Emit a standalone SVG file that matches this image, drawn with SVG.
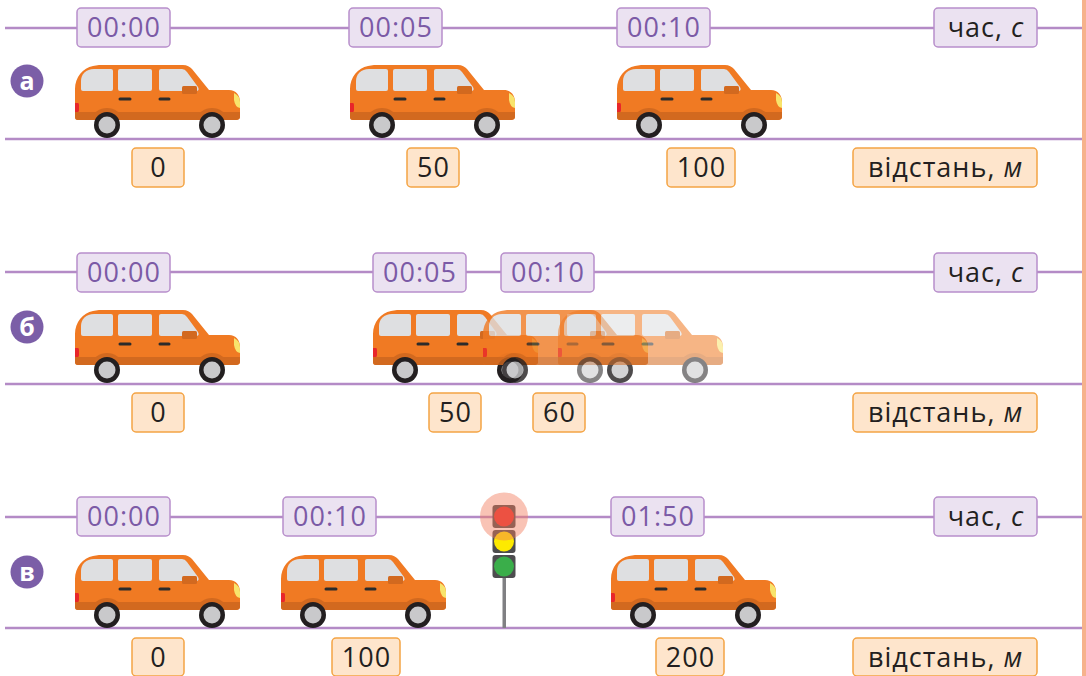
<svg xmlns="http://www.w3.org/2000/svg" xmlns:xlink="http://www.w3.org/1999/xlink" width="1086" height="676" viewBox="0 0 1086 676">
  <style>
    .axis { stroke: #b48bc6; stroke-width: 2.5; fill: none; }
    .tbox { fill: #ebe2f1; stroke: #b88fcb; stroke-width: 1.5; }
    .dbox { fill: #fee5cc; stroke: #f4a444; stroke-width: 1.5; }
    .ttxt { font-family: "Open Sans", "Noto Sans", sans-serif; font-size: 27px; letter-spacing: 1px; fill: #7b5aa6; text-anchor: middle; }
    .dtxt { font-family: "Open Sans", "Noto Sans", sans-serif; font-size: 27px; letter-spacing: 1px; fill: #231f20; text-anchor: middle; }
    .badge { fill: #7b5ea7; }
    .btxt { font-family: "Open Sans", "Noto Sans", sans-serif; font-size: 25px; font-weight: bold; fill: #ffffff; text-anchor: middle; }
    .body { fill: #f07a23; }
    .dark { fill: #d2691f; }
    .win { fill: #dedfe1; }
    .handle { stroke: #2b2b2b; stroke-width: 3; stroke-linecap: round; }
    .tyre { fill: #231f20; }
    .rim { fill: #c9c9cb; }
  </style>
  <defs>
    <!-- minivan, 165 wide, origin at top-left of the roof line -->
    <g id="car">
      <path class="body" d="M0,52 L0,24 C0,12 8,3 18,1 L24,0 L108,0 C112,0 115,2 117,4 L134,25 L154,25 C161,25 165,30 165,37 L165,52 C165,54 163,55 161,55 L3,55 C1,55 0,54 0,52 Z"/>
      <path class="dark" d="M0,47 L165,47 L165,52 C165,54 163,55 161,55 L3,55 C1,55 0,54 0,52 Z"/>
      <path class="dark" d="M15.75,55 A17,17 0 0 1 48.25,55 Z"/>
      <path class="dark" d="M120.75,55 A17,17 0 0 1 153.25,55 Z"/>
      <path class="win" d="M6,24 L6,16 C6,9 11,4 19,4 L36,4 Q38,4 38,6 L38,24 Q38,26 36,26 L8,26 Q6,26 6,24 Z"/>
      <rect class="win" x="43" y="4" width="34" height="22" rx="2"/>
      <path class="win" d="M86,4 L107,4 Q110,4 112,7 L123,22 Q125,26 121,26 L86,26 Q84,26 84,24 L84,6 Q84,4 86,4 Z"/>
      <rect class="dark" x="107" y="21" width="15" height="8" rx="1.5"/>
      <line class="handle" x1="45" y1="34" x2="55" y2="34"/>
      <line class="handle" x1="85" y1="34" x2="94" y2="34"/>
      <path fill="#e8262a" d="M0,38 L3,38 Q4,38 4,40 L4,45 Q4,47 3,47 L0,47 Z"/>
      <path fill="#f8e46c" d="M159,28 Q165,31 165,37 L165,43 Q160,42 159,35 Z"/>
      <circle class="tyre" cx="32" cy="60" r="13"/>
      <circle class="rim" cx="32" cy="60" r="8.5"/>
      <circle class="tyre" cx="137" cy="60" r="13"/>
      <circle class="rim" cx="137" cy="60" r="8.5"/>
    </g>
  </defs>

  <rect width="1086" height="676" fill="#ffffff"/>
  <!-- page edge strip -->
  <rect x="1082" y="0" width="4" height="676" fill="#f6b28c"/>

  <!-- axes -->
  <g id="connectors">
    <line class="axis" x1="5" y1="28" x2="1082" y2="28"/>
    <line class="axis" x1="5" y1="139" x2="1082" y2="139"/>
    <line class="axis" x1="5" y1="272" x2="1082" y2="272"/>
    <line class="axis" x1="5" y1="384" x2="1082" y2="384"/>
    <line class="axis" x1="5" y1="517" x2="1082" y2="517"/>
    <line class="axis" x1="5" y1="628" x2="1082" y2="628"/>
  </g>

  <!-- row a -->
  <g id="row-a">
    <g id="badge-a"><circle class="badge" cx="27" cy="81" r="16.5"/><text class="btxt" x="27" y="89.5">а</text></g>
    <g id="a-t0"><rect class="tbox" x="77" y="8" width="93" height="39" rx="4"/><text class="ttxt" x="124" y="37">00:00</text></g>
    <g id="a-t1"><rect class="tbox" x="349" y="8" width="93" height="39" rx="4"/><text class="ttxt" x="396" y="37">00:05</text></g>
    <g id="a-t2"><rect class="tbox" x="617" y="8" width="93" height="39" rx="4"/><text class="ttxt" x="664" y="37">00:10</text></g>
    <g id="a-tunit"><rect class="tbox" x="934" y="8" width="103" height="39" rx="4"/><text class="dtxt" x="986" y="37">час, <tspan font-style="italic">с</tspan></text></g>
    <use xlink:href="#car" x="75" y="65"/>
    <use xlink:href="#car" x="350" y="65"/>
    <use xlink:href="#car" x="617" y="65"/>
    <g id="a-d0"><rect class="dbox" x="132" y="148" width="52" height="39" rx="4"/><text class="dtxt" x="158.5" y="177">0</text></g>
    <g id="a-d1"><rect class="dbox" x="407" y="148" width="52" height="39" rx="4"/><text class="dtxt" x="433.5" y="177">50</text></g>
    <g id="a-d2"><rect class="dbox" x="667" y="148" width="68" height="39" rx="4"/><text class="dtxt" x="701.5" y="177">100</text></g>
    <g id="a-dunit"><rect class="dbox" x="853" y="148" width="184" height="39" rx="4"/><text class="dtxt" x="945.5" y="177">відстань, <tspan font-style="italic">м</tspan></text></g>
  </g>

  <!-- row b -->
  <g id="row-b">
    <g id="badge-b"><circle class="badge" cx="27" cy="327" r="16.5"/><text class="btxt" x="27" y="335.5">б</text></g>
    <g id="b-t0"><rect class="tbox" x="77" y="253" width="93" height="39" rx="4"/><text class="ttxt" x="124" y="282">00:00</text></g>
    <g id="b-t1"><rect class="tbox" x="373" y="253" width="93" height="39" rx="4"/><text class="ttxt" x="420" y="282">00:05</text></g>
    <g id="b-t2"><rect class="tbox" x="501" y="253" width="93" height="39" rx="4"/><text class="ttxt" x="548" y="282">00:10</text></g>
    <g id="b-tunit"><rect class="tbox" x="934" y="253" width="103" height="39" rx="4"/><text class="dtxt" x="986" y="282">час, <tspan font-style="italic">с</tspan></text></g>
    <use xlink:href="#car" x="75" y="310"/>
    <use xlink:href="#car" x="373" y="310"/>
    <use xlink:href="#car" x="483" y="310" opacity="0.8"/>
    <use xlink:href="#car" x="558" y="310" opacity="0.55"/>
    <g id="b-d0"><rect class="dbox" x="132" y="393" width="52" height="39" rx="4"/><text class="dtxt" x="158.5" y="422">0</text></g>
    <g id="b-d1"><rect class="dbox" x="429" y="393" width="52" height="39" rx="4"/><text class="dtxt" x="455.5" y="422">50</text></g>
    <g id="b-d2"><rect class="dbox" x="533" y="393" width="52" height="39" rx="4"/><text class="dtxt" x="559.5" y="422">60</text></g>
    <g id="b-dunit"><rect class="dbox" x="853" y="393" width="184" height="39" rx="4"/><text class="dtxt" x="945.5" y="422">відстань, <tspan font-style="italic">м</tspan></text></g>
  </g>

  <!-- row c -->
  <g id="row-c">
    <g id="badge-c"><circle class="badge" cx="27" cy="572" r="16.5"/><text class="btxt" x="27" y="580.5">в</text></g>
    <g id="c-t0"><rect class="tbox" x="77" y="497" width="93" height="39" rx="4"/><text class="ttxt" x="124" y="526">00:00</text></g>
    <g id="c-t1"><rect class="tbox" x="283" y="497" width="93" height="39" rx="4"/><text class="ttxt" x="330" y="526">00:10</text></g>
    <g id="c-t2"><rect class="tbox" x="611" y="497" width="93" height="39" rx="4"/><text class="ttxt" x="658" y="526">01:50</text></g>
    <g id="c-tunit"><rect class="tbox" x="934" y="497" width="103" height="39" rx="4"/><text class="dtxt" x="986" y="526">час, <tspan font-style="italic">с</tspan></text></g>
    <use xlink:href="#car" x="75" y="555"/>
    <use xlink:href="#car" x="281" y="555"/>
    <use xlink:href="#car" x="611" y="555"/>
    <!-- traffic light -->
    <g id="traffic-light">
      <rect x="502.5" y="570" width="3.5" height="58" fill="#808083"/>
      <rect x="492.5" y="505" width="23" height="23" rx="3" fill="#4d4d4f"/>
      <circle cx="504" cy="516.5" r="10" fill="#e8302e"/>
      <rect x="492.5" y="530" width="23" height="23" rx="3" fill="#4d4d4f"/>
      <circle cx="504" cy="541.5" r="10" fill="#fdea00"/>
      <rect x="492.5" y="555" width="23" height="23" rx="3" fill="#4d4d4f"/>
      <circle cx="504" cy="566.5" r="10" fill="#3aae4a"/>
      <circle cx="504" cy="516.5" r="24" fill="#f27a5a" opacity="0.45"/>
    </g>
    <g id="c-d0"><rect class="dbox" x="132" y="638" width="52" height="38" rx="4"/><text class="dtxt" x="158.5" y="667">0</text></g>
    <g id="c-d1"><rect class="dbox" x="332" y="638" width="68" height="38" rx="4"/><text class="dtxt" x="366.5" y="667">100</text></g>
    <g id="c-d2"><rect class="dbox" x="656" y="638" width="68" height="38" rx="4"/><text class="dtxt" x="690.5" y="667">200</text></g>
    <g id="c-dunit"><rect class="dbox" x="853" y="638" width="184" height="38" rx="4"/><text class="dtxt" x="945.5" y="667">відстань, <tspan font-style="italic">м</tspan></text></g>
  </g>
</svg>
